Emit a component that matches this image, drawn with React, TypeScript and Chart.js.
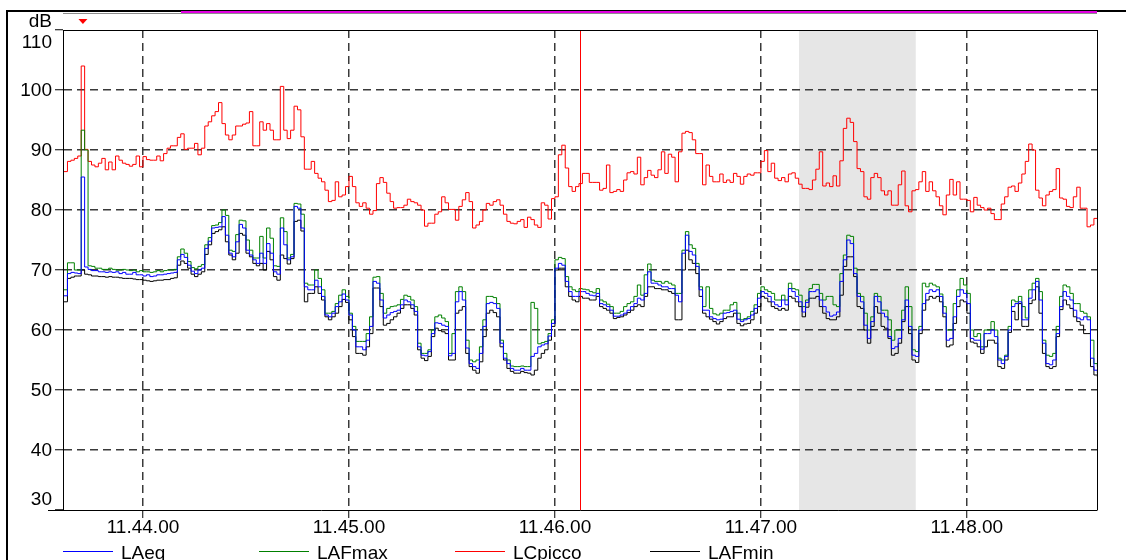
import React, { useEffect, useRef } from "react";
import { Chart, registerables } from "chart.js";

Chart.register(...registerables);

const FONT_FAMILY = "'Liberation Sans', Arial, Helvetica, sans-serif";

// Time axis: seconds after 11:43:00, one value per second starting at FIRST_SECOND
const FIRST_SECOND = 37;
const VIEW_START = 36.7;
const VIEW_END = 337.9;
const TIME_TICKS = [60, 120, 180, 240, 300];
const DB_MIN = 30;
const DB_MAX = 110;
const DB_STEP = 10;
const SELECTION = [251.1, 285.1];
const CURSOR_TIME = 187.3;

const SERIES_LABELS = ["LAeq", "LAFmax", "LCpicco", "LAFmin"];
const SERIES_COLORS = ["#0000ff", "#008000", "#ff0000", "#000000"];

const LCpicco = [
  86.4, 88.1, 88.3, 88.6, 89.0, 104.0, 90.1, 88.1, 87.5, 87.2,
  87.8, 88.6, 86.7, 88.0, 86.7, 89.0, 88.3, 87.8, 87.6, 87.3,
  87.6, 89.0, 87.2, 88.9, 88.4, 88.3, 88.3, 89.0, 88.2, 89.4,
  90.3, 90.7, 90.7, 92.1, 92.7, 90.1, 90.3, 90.3, 91.1, 89.2,
  90.3, 94.0, 94.7, 95.7, 96.4, 97.9, 94.4, 92.5, 91.7, 92.5,
  94.0, 94.0, 94.3, 94.5, 96.4, 90.7, 90.7, 94.7, 93.3, 94.4,
  93.3, 91.7, 91.7, 100.6, 93.3, 91.9, 93.3, 97.3, 96.7, 92.2,
  86.8, 86.8, 88.1, 86.1, 85.3, 84.7, 83.3, 81.4, 81.6, 84.7,
  82.2, 82.5, 83.9, 85.6, 83.9, 81.2, 80.6, 81.2, 80.3, 79.3,
  79.9, 84.4, 85.4, 84.6, 82.8, 81.4, 80.3, 80.4, 80.4, 80.8,
  81.8, 81.4, 81.2, 80.8, 80.0, 77.3, 77.8, 77.8, 79.3, 79.7,
  82.2, 81.2, 80.1, 80.1, 78.3, 80.6, 81.7, 82.9, 81.4, 77.0,
  77.5, 78.1, 80.0, 81.1, 80.8, 81.4, 81.7, 80.8, 79.3, 78.1,
  77.8, 77.7, 78.1, 78.4, 77.1, 78.8, 78.4, 77.5, 77.1, 81.2,
  80.8, 78.5, 81.9, 82.2, 89.2, 90.8, 87.0, 83.9, 83.1, 83.9,
  84.4, 86.1, 86.1, 84.6, 84.6, 84.6, 83.3, 83.6, 87.5, 82.9,
  83.1, 83.4, 83.1, 85.0, 86.2, 86.4, 86.0, 88.8, 84.2, 85.4,
  86.6, 85.8, 85.4, 86.7, 89.7, 86.1, 89.3, 88.8, 84.7, 89.7,
  92.8, 93.1, 92.9, 91.7, 89.4, 89.4, 84.2, 87.5, 85.6, 84.7,
  84.7, 86.0, 84.6, 85.0, 84.6, 86.1, 85.6, 84.3, 85.6, 86.0,
  85.8, 86.2, 86.2, 88.1, 89.9, 86.4, 87.8, 85.3, 84.9, 85.4,
  84.7, 86.0, 86.2, 85.3, 84.3, 83.6, 83.6, 83.4, 85.0, 86.8,
  89.7,
  84.0, 84.5, 83.9, 85.7, 84.0, 88.2, 93.6, 95.3, 94.6, 91.4,
  86.9, 86.4, 82.2, 81.8, 85.4, 86.1, 85.4, 83.2, 82.5, 83.2,
  80.8, 80.8, 84.2, 86.5, 80.7, 79.7, 83.2, 83.4, 84.7, 86.4,
  83.1, 84.7, 83.2, 82.2, 80.7, 79.2, 82.5, 85.1, 82.5, 84.7,
  81.8, 81.8, 81.6, 79.7, 82.1, 80.8, 80.4, 80.0, 80.3, 79.4,
  78.4, 78.4, 81.0, 82.2, 83.8, 84.0, 83.1, 84.5, 86.0, 88.1,
  91.0, 90.0, 83.3, 82.0, 80.7, 82.5, 83.1, 83.4, 86.9, 82.0,
  81.8, 80.6, 80.4, 82.2, 83.8, 80.3, 80.3, 77.2, 77.5, 78.6, 78.6,
];

const LAFmax = [
  66.7, 71.2, 71.2, 70.0, 70.0, 93.3, 90.0, 70.7, 70.6, 70.3,
  70.3, 70.1, 70.1, 70.3, 70.1, 70.0, 70.0, 70.1, 70.0, 69.9,
  70.0, 69.7, 69.9, 69.7, 69.7, 69.6, 69.7, 69.9, 69.7, 69.9,
  70.0, 70.0, 70.1, 72.2, 73.5, 72.8, 71.4, 70.4, 70.2, 70.6,
  70.9, 74.2, 75.4, 77.4, 77.5, 77.9, 80.0, 79.1, 73.3, 73.1,
  75.9, 78.3, 78.2, 75.0, 73.3, 72.0, 72.0, 75.6, 72.0, 77.0,
  75.3, 70.7, 70.6, 78.7, 76.4, 72.0, 72.6, 81.1, 81.0, 79.3,
  67.8, 67.5, 67.5, 70.0, 68.6, 66.7, 62.8, 62.8, 63.1, 64.4,
  65.8, 66.7, 65.6, 62.8, 60.6, 58.1, 58.1, 58.1, 59.4, 62.2,
  68.8, 68.9, 66.1, 62.8, 63.6, 63.9, 64.0, 64.2, 65.1, 65.8,
  65.6, 65.0, 63.9, 57.8, 56.1, 56.1, 56.7, 60.0, 62.2, 62.5,
  62.0, 61.4, 56.1, 59.4, 66.4, 67.2, 66.4, 58.3, 55.0, 54.7,
  55.0, 57.2, 61.7, 65.6, 65.6, 65.4, 64.4, 58.3, 56.1, 55.0,
  54.0, 53.9, 53.9, 54.0, 53.9, 53.9, 64.6, 63.6, 57.7, 57.9,
  58.1, 59.4, 61.7, 71.7, 72.1, 71.9, 68.9, 67.2, 66.7, 66.4,
  66.9, 66.8, 66.7, 66.4, 66.2, 66.9, 65.0, 64.7, 64.3, 63.9,
  62.8, 62.8, 63.1, 63.9, 64.4, 64.7, 65.6, 67.5, 65.8, 69.2,
  71.0, 68.3, 68.1, 68.1, 67.8, 68.1, 67.8, 67.5, 66.1, 66.1,
  73.3, 76.4, 74.2, 73.6, 71.1, 67.2, 63.9, 67.2, 63.6, 62.7,
  62.5, 62.8, 63.3, 63.3, 64.2, 64.6, 62.8, 61.7, 61.9, 62.2,
  63.1, 64.2, 66.1, 67.2, 66.7, 66.4, 66.1, 65.0, 65.0, 65.8,
  65.0, 67.8, 66.9, 66.7, 65.8, 63.9, 65.0, 66.9, 67.6, 67.6,
  66.1, 65.0, 65.6, 65.6, 64.2, 63.9, 69.4, 72.5, 75.8, 75.6,
  70.3, 66.1, 65.6, 62.8, 60.0, 62.2, 66.1, 65.6, 63.3, 63.3,
  61.7, 58.3, 60.0, 60.0, 63.3, 67.2, 63.9, 56.7, 56.4, 60.6,
  67.8, 67.2, 67.8, 67.5, 67.2, 66.0, 63.9, 60.0, 60.0, 64.4,
  66.7, 68.6, 67.5, 66.1, 60.0, 58.9, 59.4, 57.2, 60.0, 60.0,
  61.4, 60.0, 55.3, 55.0, 55.8, 60.6, 65.0, 64.7, 65.6, 63.9,
  62.0, 66.7, 67.8, 68.6, 66.4, 58.3, 55.8, 55.6, 56.1, 60.6,
  65.6, 67.5, 67.2, 66.1, 64.4, 64.4, 63.1, 62.8, 62.2, 58.3,
  54.4, 53.9,
];

const LAeq = [
  65.7, 69.4, 69.6, 69.5, 69.4, 85.5, 70.5, 70.1, 69.9, 69.9,
  69.7, 69.7, 69.6, 69.7, 69.6, 69.7, 69.4, 69.6, 69.3, 69.3,
  69.6, 69.2, 69.2, 69.0, 69.2, 68.9, 69.0, 69.2, 69.2, 69.3,
  69.4, 69.5, 69.6, 71.7, 72.6, 72.1, 70.8, 69.8, 69.4, 70.0,
  70.3, 73.6, 74.8, 77.0, 77.1, 77.2, 78.9, 75.8, 72.8, 72.2,
  74.7, 77.6, 77.0, 73.3, 72.5, 71.7, 71.1, 72.8, 71.1, 74.4,
  72.8, 69.7, 69.3, 77.0, 74.2, 71.7, 72.2, 80.6, 80.3, 77.0,
  67.2, 66.7, 66.7, 68.3, 67.2, 65.6, 62.5, 62.2, 62.8, 63.9,
  64.7, 66.0, 65.0, 62.5, 60.0, 57.2, 57.2, 56.7, 58.3, 60.6,
  68.1, 67.8, 65.0, 62.0, 62.5, 62.9, 63.1, 63.3, 64.2, 65.0,
  64.7, 64.2, 63.1, 57.2, 55.8, 55.7, 56.4, 59.4, 61.2, 61.1,
  60.8, 60.6, 55.7, 56.1, 64.7, 66.4, 65.0, 57.0, 54.4, 53.9,
  53.6, 56.1, 60.6, 64.4, 64.6, 64.4, 63.6, 57.8, 55.3, 54.4,
  53.6, 53.3, 53.3, 53.6, 53.3, 53.3, 55.6, 56.1, 57.2, 57.5,
  57.7, 59.0, 61.1, 70.3, 71.1, 70.8, 68.1, 66.4, 65.6, 65.6,
  66.4, 66.4, 66.1, 65.8, 65.7, 66.1, 64.4, 64.2, 63.9, 63.3,
  62.3, 62.3, 62.5, 62.8, 63.3, 63.9, 64.4, 65.3, 65.0, 66.1,
  69.7, 67.8, 67.8, 67.5, 67.2, 67.2, 66.9, 66.9, 65.8, 64.7,
  72.8, 75.8, 73.1, 72.5, 70.6, 66.7, 63.3, 63.3, 62.2, 61.9,
  61.7, 61.8, 62.8, 62.9, 63.1, 63.3, 61.8, 61.4, 61.7, 61.9,
  62.5, 63.6, 65.3, 66.4, 66.1, 65.6, 64.7, 64.2, 63.9, 65.0,
  64.2, 66.9, 66.4, 65.6, 64.7, 63.0, 64.6, 66.4, 66.4, 66.7,
  65.0, 63.9, 63.0, 62.3, 62.5, 63.0, 68.1, 71.7, 75.0, 74.4,
  69.4, 65.6, 64.7, 60.8, 58.6, 61.4, 65.6, 64.7, 62.8, 62.2,
  58.9, 56.9, 57.2, 58.6, 61.7, 65.0, 60.6, 55.8, 55.6, 60.0,
  64.4, 66.1, 66.7, 66.4, 66.7, 65.6, 62.8, 58.3, 58.6, 62.2,
  65.6, 66.7, 66.1, 64.4, 58.6, 58.3, 58.3, 56.8, 59.4, 59.4,
  60.0, 58.9, 55.0, 54.4, 55.6, 60.0, 63.9, 64.4, 64.7, 61.7,
  61.7, 65.3, 66.7, 68.1, 65.0, 57.8, 54.4, 54.2, 55.0, 59.4,
  63.9, 66.4, 65.6, 65.0, 63.3, 62.0, 61.7, 62.2, 61.7, 55.3,
  53.3, 52.8,
];

const LAFmin = [
  64.7, 68.6, 68.8, 69.0, 69.0, 70.0, 69.3, 69.2, 69.0, 69.0,
  68.9, 68.9, 68.8, 68.9, 68.8, 68.8, 68.7, 68.6, 68.6, 68.6,
  68.5, 68.4, 68.4, 68.3, 68.2, 68.1, 68.2, 68.3, 68.3, 68.4,
  68.4, 68.6, 68.7, 70.8, 71.5, 71.1, 70.3, 69.3, 68.9, 69.3,
  69.7, 72.6, 74.2, 76.1, 76.4, 76.7, 77.2, 74.7, 72.5, 71.7,
  72.8, 76.1, 75.8, 72.8, 72.2, 71.1, 70.7, 71.1, 70.0, 73.1,
  71.7, 68.9, 68.3, 72.5, 71.9, 71.0, 71.9, 78.1, 78.3, 76.5,
  64.7, 66.1, 66.1, 67.2, 66.1, 65.0, 62.2, 61.7, 62.2, 62.8,
  63.9, 65.1, 64.6, 61.7, 58.9, 56.1, 56.1, 55.8, 57.2, 59.4,
  67.0, 67.0, 63.9, 60.8, 61.1, 61.7, 62.2, 62.8, 63.6, 64.2,
  64.2, 63.6, 62.5, 56.7, 55.3, 54.9, 55.6, 58.9, 60.3, 59.9,
  59.7, 59.4, 55.0, 55.0, 62.8, 63.3, 63.9, 56.1, 53.9, 53.3,
  52.8, 54.7, 58.9, 62.8, 63.3, 62.9, 62.2, 57.2, 55.0, 53.6,
  53.1, 52.8, 52.8, 53.1, 52.9, 52.8, 52.5, 53.3, 55.3, 56.1,
  56.7, 58.3, 60.6, 70.0, 70.3, 70.3, 67.2, 65.6, 65.0, 64.7,
  65.6, 65.3, 65.3, 65.0, 65.0, 65.6, 63.9, 63.6, 63.3, 62.8,
  61.9, 62.1, 62.2, 62.5, 62.9, 63.3, 63.9, 64.2, 63.9, 65.6,
  67.2, 67.2, 66.9, 66.9, 66.7, 66.7, 66.4, 66.1, 61.7, 61.7,
  70.0, 73.3, 71.7, 71.1, 69.4, 65.6, 62.8, 62.2, 61.8, 61.4,
  61.0, 61.4, 61.9, 62.2, 62.2, 62.8, 61.1, 60.7, 61.0, 61.1,
  61.7, 62.8, 63.9, 65.6, 65.3, 64.7, 63.9, 63.6, 63.3, 63.6,
  63.3, 65.6, 65.3, 64.7, 63.9, 62.2, 63.8, 65.3, 65.3, 65.6,
  63.9, 62.8, 61.9, 61.7, 61.7, 62.2, 65.8, 70.6, 72.2, 72.2,
  68.9, 63.9, 63.6, 60.0, 57.8, 60.6, 63.9, 62.8, 60.6, 60.3,
  58.6, 55.8, 56.1, 57.8, 61.4, 63.9, 59.4, 55.0, 54.6, 59.4,
  63.3, 65.0, 65.6, 65.3, 65.6, 64.7, 62.2, 57.2, 57.5, 61.1,
  63.9, 65.0, 64.7, 62.8, 58.0, 57.8, 57.2, 56.1, 57.2, 58.3,
  58.3, 57.8, 53.9, 53.6, 55.0, 59.6, 63.1, 61.7, 64.4, 60.6,
  60.6, 64.4, 65.0, 67.2, 62.8, 56.1, 53.9, 53.6, 53.9, 58.9,
  63.4, 65.0, 64.2, 63.6, 62.2, 61.4, 60.8, 59.4, 59.4, 53.9,
  52.5, 52.2,
];

const SERIES_VALUES = [LAeq, LAFmax, LCpicco, LAFmin];

function timeLabel(v: number): string {
  const total = Math.round(v);
  const m = 43 + Math.floor(total / 60);
  const s = total % 60;
  return `11.${m}.${String(s).padStart(2, "0")}`;
}

function toPoints(values: number[]) {
  return values.map((y, i) => ({ x: FIRST_SECOND + i, y }));
}

const LEGEND_X = [63, 259, 455, 650];
const GRID_COLOR = "#3a3a3a";

const chromePlugin = {
  id: "chrome",
  beforeDraw(chart: any) {
    const { ctx, chartArea: a, scales } = chart;
    ctx.save();
    ctx.fillStyle = "#ffffff";
    ctx.fillRect(0, 0, chart.width, chart.height);
    const x1 = scales.x.getPixelForValue(SELECTION[0]);
    const x2 = scales.x.getPixelForValue(SELECTION[1]);
    ctx.fillStyle = "#e6e6e6";
    ctx.fillRect(x1, a.top, x2 - x1, a.bottom - a.top);
    ctx.restore();
  },
  afterDatasetsDraw(chart: any) {
    const { ctx, chartArea: a, scales } = chart;
    const cx = Math.round(scales.x.getPixelForValue(CURSOR_TIME));
    ctx.save();
    ctx.fillStyle = "#ff0000";
    ctx.fillRect(cx, a.top, 1, a.bottom - a.top);
    ctx.restore();
  },
  afterDraw(chart: any) {
    const { ctx, chartArea: a, scales } = chart;
    ctx.save();
    // outer frame
    ctx.fillStyle = "#000000";
    ctx.fillRect(6, 10, chart.width - 6, 2);
    ctx.fillRect(6, 10, 2, chart.height - 10);
    // overview bar
    ctx.fillStyle = "#8c8c8c";
    ctx.fillRect(a.left, 13, a.right - a.left, 1);
    ctx.fillStyle = "#e100e1";
    ctx.fillRect(181, 11, a.right - 181, 2);
    // plot frame
    ctx.fillStyle = "#000000";
    ctx.fillRect(a.left, a.top, a.right - a.left + 1, 1);
    ctx.fillRect(a.right, a.top, 1, a.bottom - a.top);
    ctx.fillRect(48, a.bottom, a.left - 48, 1);
    ctx.font = `19px ${FONT_FAMILY}`;
    // y tick labels, kept inside the plot height
    ctx.textAlign = "right";
    ctx.textBaseline = "middle";
    scales.y.ticks.forEach((t: any) => {
      const py = scales.y.getPixelForValue(t.value);
      const y = Math.max(a.top + 12, Math.min(a.bottom - 11, py));
      ctx.fillText(String(t.value), 52, y + 1);
    });
    // unit label
    ctx.textBaseline = "alphabetic";
    ctx.fillText("dB", 52, 27);
    // max marker of LCpicco
    let mi = 0;
    LCpicco.forEach((v, i) => { if (v > LCpicco[mi]) mi = i; });
    const mx = scales.x.getPixelForValue(FIRST_SECOND + mi + 0.5);
    ctx.fillStyle = "#ff0000";
    ctx.beginPath();
    ctx.moveTo(mx - 4.5, 19);
    ctx.lineTo(mx + 4.5, 19);
    ctx.lineTo(mx, 24);
    ctx.closePath();
    ctx.fill();
    // legend
    ctx.textAlign = "left";
    SERIES_LABELS.forEach((label, i) => {
      const lx = LEGEND_X[i];
      ctx.fillStyle = SERIES_COLORS[i];
      ctx.fillRect(lx, 551, 50, 1);
      ctx.fillStyle = "#000000";
      ctx.fillText(label, lx + 58, 559);
    });
    ctx.restore();
  },
};

export default function App() {
  const ref = useRef<HTMLCanvasElement>(null);
  useEffect(() => {
    const canvas = ref.current;
    if (!canvas) return;
    const chart = new Chart(canvas, {
      type: "line",
      data: {
        datasets: SERIES_LABELS.map((label, i) => ({
          label,
          data: toPoints(SERIES_VALUES[i]),
          borderColor: SERIES_COLORS[i],
          backgroundColor: SERIES_COLORS[i],
          borderWidth: 1,
          pointRadius: 0,
          stepped: true,
          fill: false,
        })),
      },
      options: {
        animation: false,
        responsive: false,
        devicePixelRatio: 1,
        parsing: false,
        layout: { padding: { left: 0, right: 29, top: 30, bottom: 0 } },
        plugins: { legend: { display: false }, tooltip: { enabled: false }, title: { display: false } },
        scales: {
          x: {
            type: "linear",
            min: VIEW_START,
            max: VIEW_END,
            afterBuildTicks: (s: any) => { s.ticks = TIME_TICKS.map((v) => ({ value: v })); },
            afterFit: (s: any) => { s.height = 50; },
            ticks: {
              callback: (v: any) => timeLabel(Number(v)),
              color: "#000000",
              font: { family: FONT_FAMILY, size: 19 },
              padding: -2,
              maxRotation: 0,
              autoSkip: false,
            },
            grid: {
              color: GRID_COLOR,
              lineWidth: 1.5,
              drawTicks: true,
              tickLength: 8,
              tickColor: "#000000",
              tickWidth: 1,
              tickBorderDash: [],
            },
            border: { display: true, color: "#000000", width: 1, dash: [8, 5] },
          },
          y: {
            type: "linear",
            min: DB_MIN,
            max: DB_MAX,
            afterFit: (s: any) => { s.width = 63; },
            ticks: {
              stepSize: DB_STEP,
              color: "rgba(0,0,0,0)",
              font: { family: FONT_FAMILY, size: 19 },
              padding: 3,
            },
            grid: {
              color: (c: any) => (c.tick && (c.tick.value === DB_MIN || c.tick.value === DB_MAX) ? "rgba(0,0,0,0)" : GRID_COLOR),
              lineWidth: 1.5,
              drawTicks: true,
              tickLength: 8,
              tickColor: "#000000",
              tickWidth: 1,
              tickBorderDash: [],
            },
            border: { display: true, color: "#000000", width: 1, dash: [8, 5] },
          },
        },
      },
      plugins: [chromePlugin],
    } as any);
    return () => chart.destroy();
  }, []);
  return (
    <div style={{ position: "fixed", left: 0, top: 0, width: 1126, height: 560, background: "#ffffff" }}>
      <canvas ref={ref} width={1126} height={560} style={{ display: "block", width: 1126, height: 560 }} />
    </div>
  );
}
